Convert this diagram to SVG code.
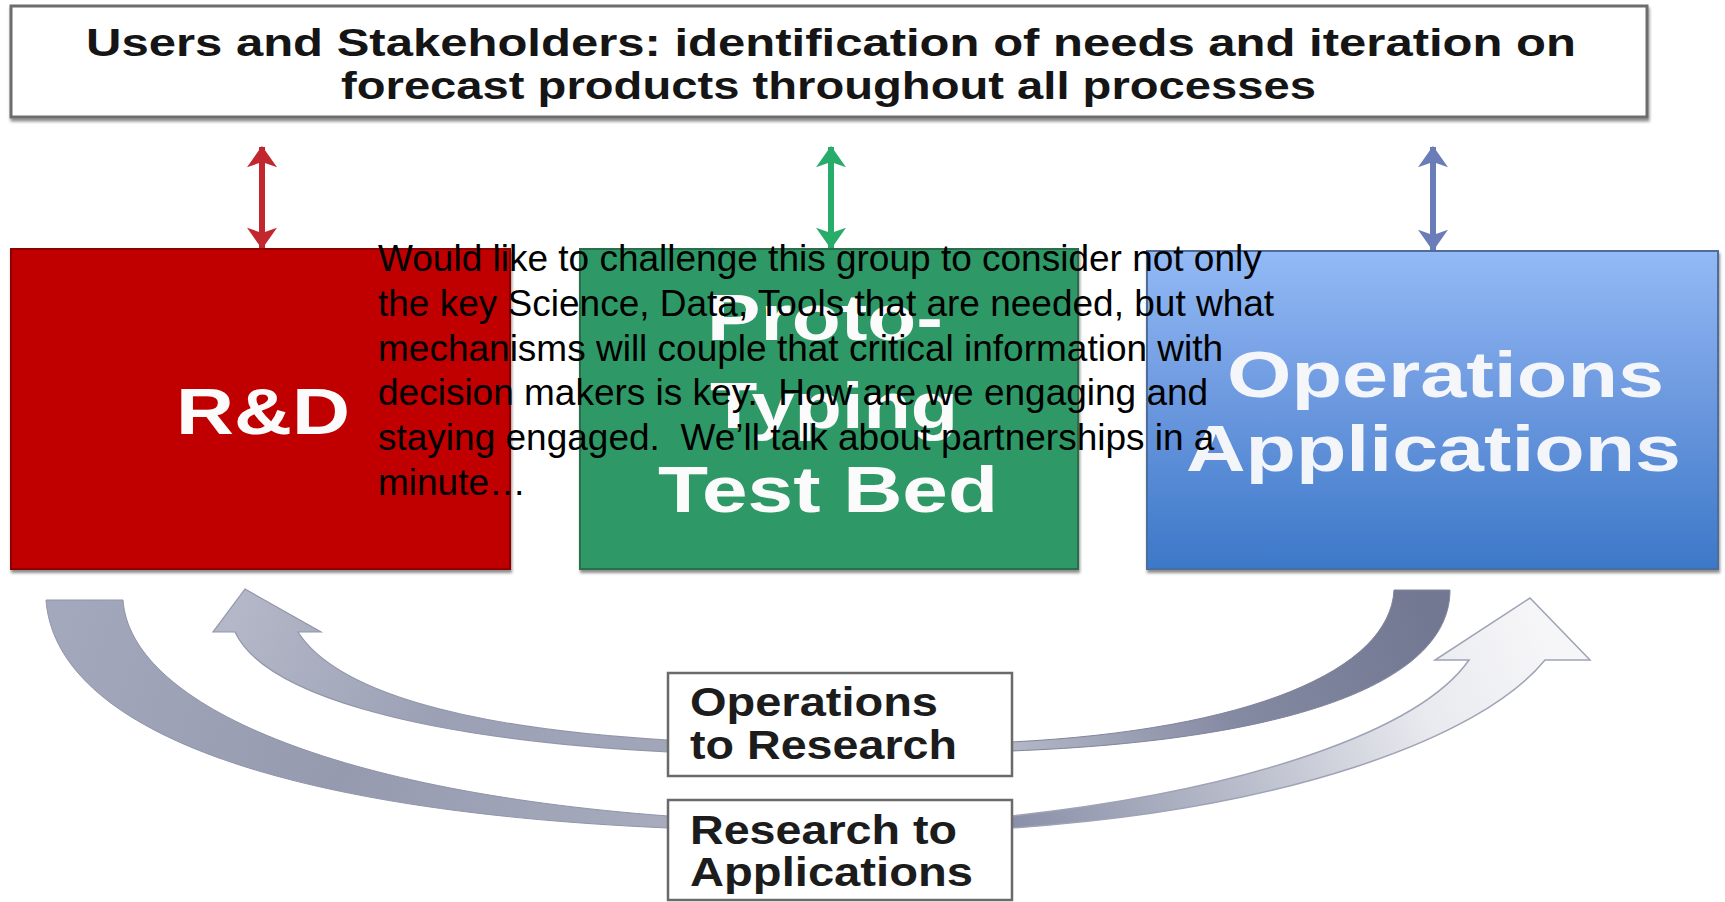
<svg xmlns="http://www.w3.org/2000/svg" width="1725" height="902" viewBox="0 0 1725 902">
<style>
  .title { font-family: "Liberation Sans", Arial, sans-serif; font-weight: bold; font-size: 39px; fill: #151515; }
  .big { font-family: "Liberation Sans", Arial, sans-serif; font-weight: bold; font-size: 64px; fill: #fbfbfb; }
  .lbl { font-family: "Liberation Sans", Arial, sans-serif; font-weight: bold; font-size: 40px; fill: #1c1c1c; }
  .note { font-family: "Liberation Sans", Arial, sans-serif; font-size: 37px; fill: #000; white-space: pre; }
  .lblbox { fill: #fff; stroke: #6a6a6a; stroke-width: 2.5; }
</style>
<defs>
  <filter id="sh" x="-5%" y="-5%" width="110%" height="115%">
    <feDropShadow dx="1" dy="3" stdDeviation="1.5" flood-color="#000" flood-opacity="0.45"/>
  </filter>
  <linearGradient id="blueFill" x1="0" y1="0" x2="0" y2="1">
    <stop offset="0" stop-color="#93baf5"/>
    <stop offset="0.45" stop-color="#6e9ae0"/>
    <stop offset="1" stop-color="#3c78c8"/>
  </linearGradient>
  <linearGradient id="gA" gradientUnits="userSpaceOnUse" x1="60" y1="600" x2="668" y2="822">
    <stop offset="0" stop-color="#a3a8bc"/>
    <stop offset="0.5" stop-color="#959aaf"/>
    <stop offset="1" stop-color="#a7abbd"/>
  </linearGradient>
  <linearGradient id="gB" gradientUnits="userSpaceOnUse" x1="1011" y1="822" x2="1530" y2="600">
    <stop offset="0" stop-color="#8a90a8"/>
    <stop offset="0.4" stop-color="#b9bdcb"/>
    <stop offset="0.75" stop-color="#e9eaef"/>
    <stop offset="1" stop-color="#f6f6f8"/>
  </linearGradient>
  <linearGradient id="gC" gradientUnits="userSpaceOnUse" x1="1420" y1="592" x2="1011" y2="746">
    <stop offset="0" stop-color="#737892"/>
    <stop offset="0.5" stop-color="#858aa3"/>
    <stop offset="1" stop-color="#b3b7c6"/>
  </linearGradient>
  <linearGradient id="gD" gradientUnits="userSpaceOnUse" x1="245" y1="590" x2="668" y2="746">
    <stop offset="0" stop-color="#b3b7c7"/>
    <stop offset="0.5" stop-color="#9ba0b5"/>
    <stop offset="1" stop-color="#a2a6b9"/>
  </linearGradient>
  <marker id="ahRed" viewBox="0 0 20 28" refX="19" refY="14" markerWidth="22" markerHeight="30" markerUnits="userSpaceOnUse" orient="auto-start-reverse">
    <path d="M0,0 L20,14 L0,28 L5,14 Z" fill="#c1272d"/>
  </marker>
  <marker id="ahGreen" viewBox="0 0 20 28" refX="19" refY="14" markerWidth="22" markerHeight="30" markerUnits="userSpaceOnUse" orient="auto-start-reverse">
    <path d="M0,0 L20,14 L0,28 L5,14 Z" fill="#27ad69"/>
  </marker>
  <marker id="ahBlue" viewBox="0 0 20 28" refX="19" refY="14" markerWidth="22" markerHeight="30" markerUnits="userSpaceOnUse" orient="auto-start-reverse">
    <path d="M0,0 L20,14 L0,28 L5,14 Z" fill="#6b7db8"/>
  </marker>
</defs>

<rect width="1725" height="902" fill="#fff"/>

<g id="stakeholders">
  <rect x="11" y="6" width="1636" height="111" fill="#fff" stroke="#6d6d6d" stroke-width="3" filter="url(#sh)"/>
  <text class="title" x="86" y="56" textLength="1490" lengthAdjust="spacingAndGlyphs">Users and Stakeholders: identification of needs and iteration on</text>
  <text class="title" x="341" y="99" textLength="975" lengthAdjust="spacingAndGlyphs">forecast products throughout all processes</text>
</g>

<g id="connectors">
  <line x1="262" y1="147" x2="262" y2="248" stroke="#c1272d" stroke-width="6" marker-start="url(#ahRed)" marker-end="url(#ahRed)"/>
  <line x1="831" y1="147" x2="831" y2="248" stroke="#27ad69" stroke-width="6" marker-start="url(#ahGreen)" marker-end="url(#ahGreen)"/>
  <line x1="1433" y1="147" x2="1433" y2="250" stroke="#6b7db8" stroke-width="6" marker-start="url(#ahBlue)" marker-end="url(#ahBlue)"/>

  <path id="r2a-tail" d="M46,600 L123,600 C130,700 320,790 668,816 L668,828 C250,810 55,720 46,600 Z" fill="url(#gA)" stroke="#8f94aa" stroke-width="1"/>
  <path id="r2a-head" d="M1011,816 C1250,790 1420,730 1469,660 L1435,660 L1530,598 L1590,660 L1545,660 C1480,740 1280,810 1011,828 Z" fill="url(#gB)" stroke="#9ea3b6" stroke-width="1.5"/>
  <path id="o2r-tail" d="M1394,590 L1450,590 C1450,680 1300,740 1011,751 L1011,742 C1250,730 1390,670 1394,590 Z" fill="url(#gC)" stroke="#80859e" stroke-width="1"/>
  <path id="o2r-head" d="M668,740 C460,728 335,690 298,632 L321,632 L245,589 L213,632 L235,632 C262,690 400,738 668,752 Z" fill="url(#gD)" stroke="#9196ab" stroke-width="1.2"/>
</g>

<g id="rd" filter="url(#sh)">
  <rect x="11" y="249" width="499" height="320" fill="#c00000" stroke="#8e0606" stroke-width="2"/>
  <text class="big" x="176" y="434" textLength="174" lengthAdjust="spacingAndGlyphs">R&amp;D</text>
</g>

<g id="testbed" filter="url(#sh)">
  <rect x="580" y="249" width="498" height="320" fill="#2f9966" stroke="#2a6e4c" stroke-width="2"/>
  <text class="big" x="707" y="340" textLength="236" lengthAdjust="spacingAndGlyphs">Proto-</text>
  <text class="big" x="710" y="428" textLength="248" lengthAdjust="spacingAndGlyphs">Typing</text>
  <text class="big" x="658" y="512" textLength="340" lengthAdjust="spacingAndGlyphs">Test Bed</text>
</g>

<g id="operations" filter="url(#sh)">
  <rect x="1147" y="251" width="571" height="318" fill="url(#blueFill)" stroke="#4d6d9c" stroke-width="2"/>
  <text class="big" x="1227" y="397" textLength="437" lengthAdjust="spacingAndGlyphs" fill-opacity="0.95">Operations</text>
  <text class="big" x="1186" y="471" textLength="495" lengthAdjust="spacingAndGlyphs" fill-opacity="0.95">Applications</text>
</g>

<g id="ops-to-research">
  <rect class="lblbox" x="668" y="673" width="344" height="103"/>
  <text class="lbl" x="690" y="716" textLength="248" lengthAdjust="spacingAndGlyphs">Operations</text>
  <text class="lbl" x="690" y="759" textLength="267" lengthAdjust="spacingAndGlyphs">to Research</text>
</g>

<g id="research-to-apps">
  <rect class="lblbox" x="668" y="800" width="344" height="100"/>
  <text class="lbl" x="690" y="844" textLength="267" lengthAdjust="spacingAndGlyphs">Research to</text>
  <text class="lbl" x="690" y="886" textLength="283" lengthAdjust="spacingAndGlyphs">Applications</text>
</g>

<g id="note">
  <text class="note" x="378" y="271">Would like to challenge this group to consider not only</text>
  <text class="note" x="378" y="316">the key Science, Data, Tools that are needed, but what</text>
  <text class="note" x="378" y="361">mechanisms will couple that critical information with</text>
  <text class="note" x="378" y="405">decision makers is key.  How are we engaging and</text>
  <text class="note" x="378" y="450">staying engaged.  We’ll talk about partnerships in a</text>
  <text class="note" x="378" y="495">minute…</text>
</g>
</svg>
